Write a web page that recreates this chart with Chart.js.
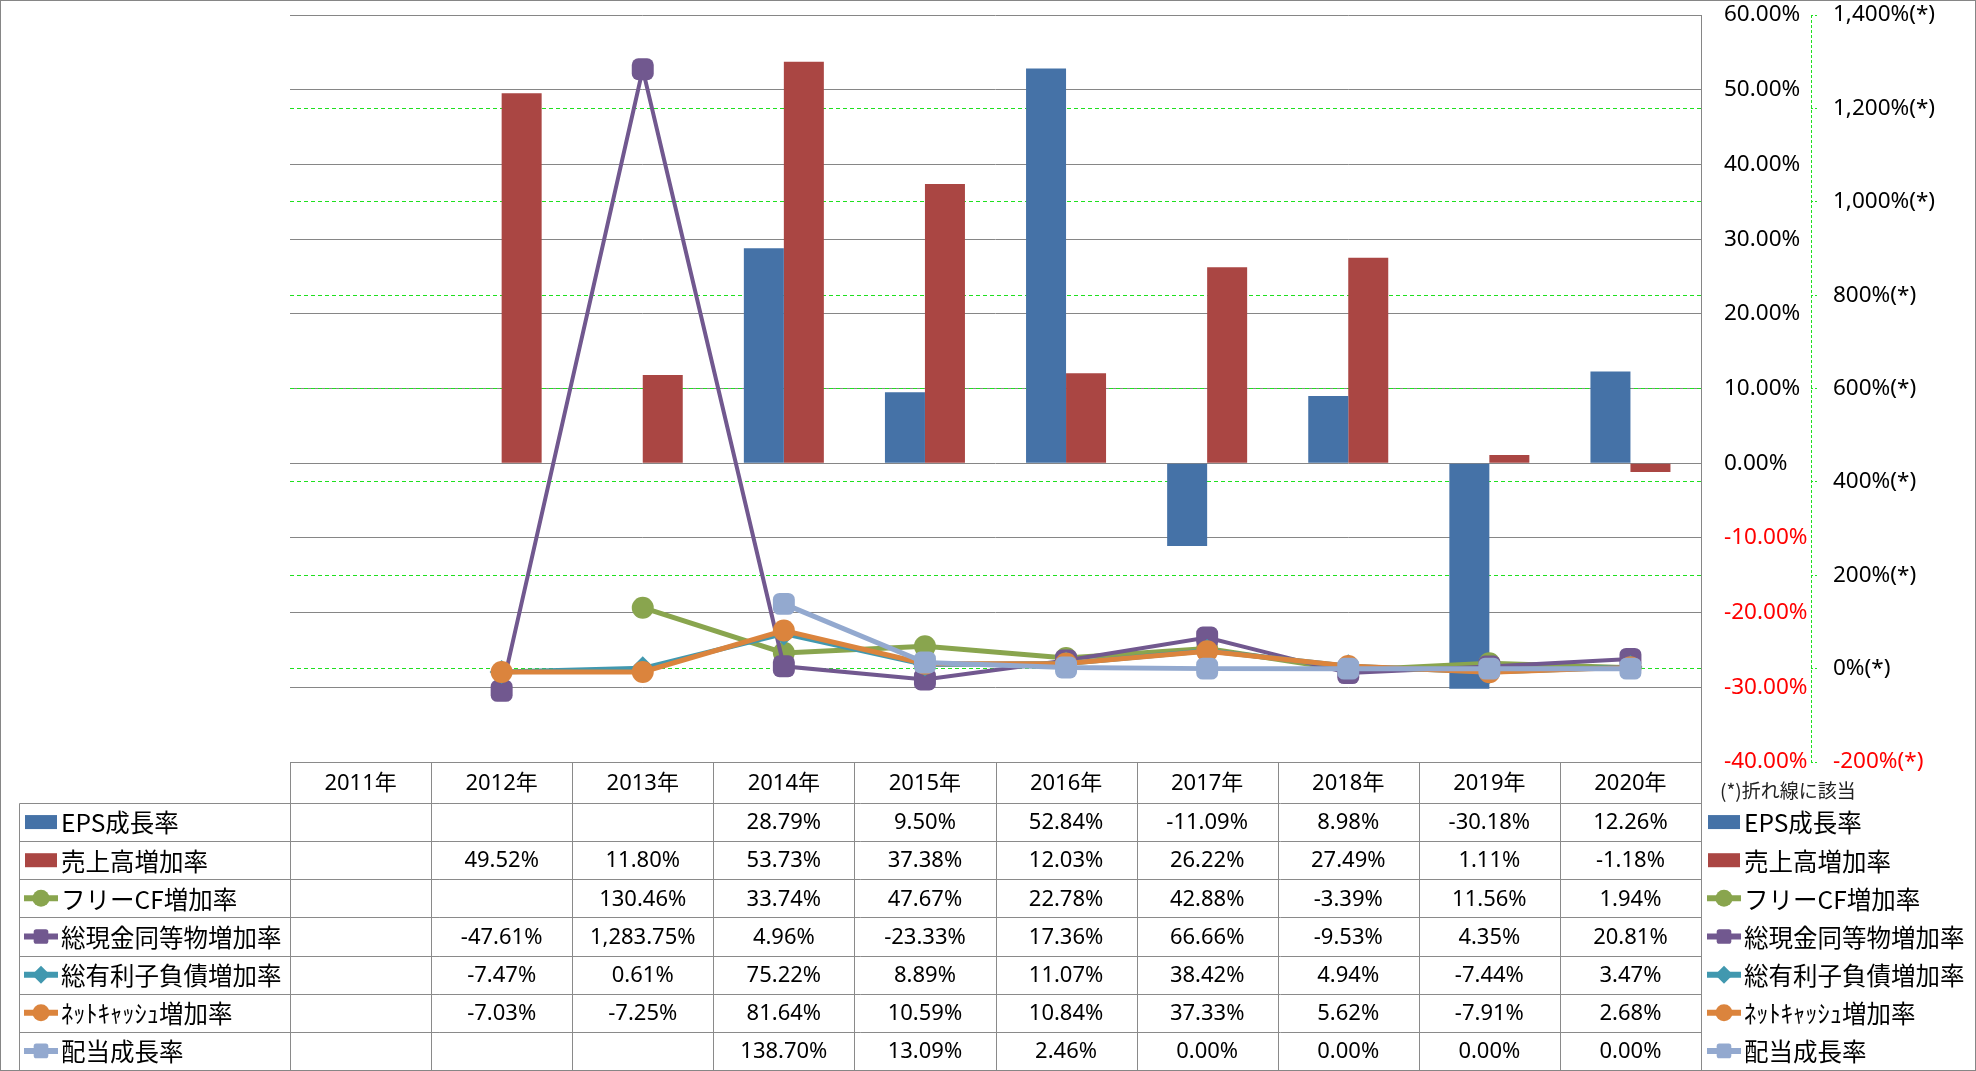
<!DOCTYPE html>
<html><head><meta charset="utf-8">
<script src="https://cdn.jsdelivr.net/npm/chart.js@4/dist/chart.umd.min.js"></script>
<style>html,body{margin:0;padding:0;background:#fff;}canvas{display:block;}</style>
</head><body>
<canvas id="c" width="1976" height="1071"></canvas>
<script>
// ---- data ----
const categories = ['2011年','2012年','2013年','2014年','2015年','2016年','2017年','2018年','2019年','2020年'];
const seriesLabels = ['EPS成長率','売上高増加率','フリーCF増加率','総現金同等物増加率','総有利子負債増加率','ﾈｯﾄｷｬｯｼｭ増加率','配当成長率'];
const epsGrowth      = [null, null, null, 28.79, 9.50, 52.84, -11.09, 8.98, -30.18, 12.26];
const salesGrowth    = [null, 49.52, 11.80, 53.73, 37.38, 12.03, 26.22, 27.49, 1.11, -1.18];
const fcfGrowth      = [null, null, 130.46, 33.74, 47.67, 22.78, 42.88, -3.39, 11.56, 1.94];
const cashGrowth     = [null, -47.61, 1283.75, 4.96, -23.33, 17.36, 66.66, -9.53, 4.35, 20.81];
const debtGrowth     = [null, -7.47, 0.61, 75.22, 8.89, 11.07, 38.42, 4.94, -7.44, 3.47];
const netCashGrowth  = [null, -7.03, -7.25, 81.64, 10.59, 10.84, 37.33, 5.62, -7.91, 2.68];
const dividendGrowth = [null, null, null, 138.70, 13.09, 2.46, 0.00, 0.00, 0.00, 0.00];
const primaryAxis   = {min: -40, max: 60, step: 10};
const secondaryAxis = {min: -200, max: 1400, step: 200};
const secondaryNote = '(*)折れ線に該当';

// ---- styles ----
const FONT_NUM = '"Noto Sans", "Noto Sans CJK JP", sans-serif';
const FONT_JP = '"Noto Sans CJK JP", "Noto Sans", sans-serif';
const GRID_GRAY = '#868686';
const GREEN = '#1fe01f';
const RED = '#ff0000';

const tableRows = [epsGrowth, salesGrowth, fcfGrowth, cashGrowth, debtGrowth, netCashGrowth, dividendGrowth];

function lineDs(i, data, color, style, r, w, order) {
  return {type:'line', label: seriesLabels[i], data, yAxisID:'y2', order,
    borderColor: color, backgroundColor: color, borderWidth: w,
    pointStyle: style, pointRadius: r, pointHoverRadius: r,
    pointBackgroundColor: color, pointBorderColor: color, pointBorderWidth: 0,
    tension: 0, spanGaps: false};
}

const datasets = [
  {type:'bar', label: seriesLabels[0], data: epsGrowth, yAxisID:'y', order:10,
   backgroundColor:'#4572A7', borderWidth:0, categoryPercentage:0.567, barPercentage:1},
  {type:'bar', label: seriesLabels[1], data: salesGrowth, yAxisID:'y', order:10,
   backgroundColor:'#AA4643', borderWidth:0, categoryPercentage:0.567, barPercentage:1},
  lineDs(2, fcfGrowth, '#89A54E', 'circle', 11, 5, 5),
  lineDs(3, cashGrowth, '#71588F', 'rectRounded', 12.8, 4, 4),
  lineDs(4, debtGrowth, '#4198AF', 'rectRot', 12, 5, 3),
  lineDs(5, netCashGrowth, '#DB843D', 'circle', 11, 5, 2),
  lineDs(6, dividendGrowth, '#93A9CF', 'rectRounded', 12.8, 5, 1)
];

function fmtPct(v) {
  if (v === null || v === undefined) return '';
  return v.toLocaleString('en-US', {minimumFractionDigits:2, maximumFractionDigits:2}) + '%';
}

function drawMarker(ctx, style, x, y, r, color) {
  ctx.save();
  ctx.fillStyle = color;
  ctx.beginPath();
  if (style === 'circle') {
    ctx.arc(x, y, r, 0, Math.PI*2);
  } else if (style === 'rectRot') {
    ctx.moveTo(x, y-r); ctx.lineTo(x+r, y); ctx.lineTo(x, y+r); ctx.lineTo(x-r, y); ctx.closePath();
  } else {
    const h = r*0.86, c = r*0.3;
    ctx.moveTo(x-h+c, y-h); ctx.lineTo(x+h-c, y-h); ctx.quadraticCurveTo(x+h, y-h, x+h, y-h+c);
    ctx.lineTo(x+h, y+h-c); ctx.quadraticCurveTo(x+h, y+h, x+h-c, y+h);
    ctx.lineTo(x-h+c, y+h); ctx.quadraticCurveTo(x-h, y+h, x-h, y+h-c);
    ctx.lineTo(x-h, y-h+c); ctx.quadraticCurveTo(x-h, y-h, x-h+c, y-h);
  }
  ctx.fill();
  ctx.restore();
}

function drawLegendEntry(ctx, ds, x0, cy) {
  if (ds.type === 'bar') {
    ctx.fillStyle = ds.backgroundColor;
    ctx.fillRect(x0, cy-7, 32, 14);
  } else {
    ctx.save();
    ctx.strokeStyle = ds.borderColor;
    ctx.lineWidth = 6;
    ctx.beginPath(); ctx.moveTo(x0-1, cy); ctx.lineTo(x0+33, cy); ctx.stroke();
    ctx.restore();
    drawMarker(ctx, ds.pointStyle, x0+16, cy, ds.pointStyle === 'rectRot' ? 9 : 8.5, ds.borderColor);
  }
}

const tablePlugin = {
  id: 'dataTable',
  afterDraw(chart) {
    const ctx = chart.ctx;
    const xs = chart.scales.x;
    const y2 = chart.scales.y2;
    const area = chart.chartArea;
    const n = categories.length;
    const colW = (xs.right - xs.left) / n;
    const top = area.bottom;
    const headerH = 41;
    const rowsTop = top + headerH;
    const bottom = chart.height - 1;
    const rowH = (bottom - rowsTop) / tableRows.length;
    const legendLeft = 19.5;

    ctx.save();
    ctx.strokeStyle = GREEN; ctx.lineWidth = 1; ctx.setLineDash([3,2]);
    ctx.beginPath(); ctx.moveTo(Math.round(y2.left)+0.5, y2.top); ctx.lineTo(Math.round(y2.left)+0.5, y2.bottom); ctx.stroke();
    ctx.setLineDash([]);

    ctx.strokeStyle = '#8a8a8a'; ctx.lineWidth = 1;
    ctx.beginPath();
    ctx.moveTo(xs.left, Math.round(top)+0.5); ctx.lineTo(xs.right, Math.round(top)+0.5);
    for (let r = 0; r <= tableRows.length; r++) {
      const yy = Math.round(rowsTop + r*rowH) + 0.5;
      ctx.moveTo(legendLeft, yy); ctx.lineTo(xs.right, yy);
    }
    ctx.moveTo(legendLeft, Math.round(rowsTop)+0.5); ctx.lineTo(legendLeft, bottom);
    for (let c = 0; c <= n; c++) {
      const xx = Math.round(xs.left + c*colW) + 0.5;
      ctx.moveTo(xx, Math.round(top)); ctx.lineTo(xx, bottom);
    }
    ctx.stroke();

    ctx.fillStyle = '#000';
    ctx.textBaseline = 'middle';
    ctx.textAlign = 'center';
    ctx.font = '22px ' + FONT_NUM;
    categories.forEach((c, i) => {
      ctx.fillText(c, xs.getPixelForValue(i), top + headerH/2 + 1);
    });
    tableRows.forEach((row, r) => {
      const cy = rowsTop + r*rowH + rowH/2 + 1;
      row.forEach((v, i) => {
        const t = fmtPct(v);
        if (t) ctx.fillText(t, xs.getPixelForValue(i), cy);
      });
    });

    ctx.textAlign = 'left';
    ctx.font = '24.5px ' + FONT_JP;
    chart.data.datasets.forEach((ds, r) => {
      const cy = rowsTop + r*rowH + rowH/2;
      drawLegendEntry(ctx, ds, 25, cy);
      ctx.fillStyle = '#000';
      ctx.fillText(ds.label, 61, cy + 1);
      drawLegendEntry(ctx, ds, 1708, cy);
      ctx.fillStyle = '#000';
      ctx.fillText(ds.label, 1744, cy + 1);
    });

    ctx.font = '19px ' + FONT_JP;
    ctx.fillStyle = '#222';
    ctx.fillText(secondaryNote, 1720, top + 29);

    ctx.strokeStyle = GRID_GRAY;
    ctx.strokeRect(0.5, 0.5, chart.width - 1, chart.height - 1);
    ctx.restore();
  }
};

new Chart(document.getElementById('c'), {
  data: {labels: categories, datasets},
  options: {
    responsive: false, animation: false, devicePixelRatio: 1,
    layout: {padding: {left: 290, top: 15, right: 0, bottom: 0}},
    plugins: {legend: {display: false}, tooltip: {enabled: false}},
    scales: {
      x: {type: 'category', offset: true, grid: {display: false}, border: {display: false},
          ticks: {display: false}, afterFit(s) { s.height = 309; s.paddingLeft = 0; s.paddingRight = 0; }},
      y: {position: 'right', weight: 0, min: primaryAxis.min, max: primaryAxis.max,
          ticks: {stepSize: primaryAxis.step, padding: 23, font: {family: FONT_NUM, size: 22.5},
                  color: c => c.tick.value < 0 ? RED : '#000',
                  callback: v => v.toFixed(2) + '%'},
          grid: {color: GRID_GRAY, lineWidth: 1, drawTicks: false},
          border: {display: true, color: GRID_GRAY, width: 1},
          afterFit(s) { s.width = 110; s.paddingTop = 0; s.paddingBottom = 0; }},
      y2: {position: 'right', weight: 1, min: secondaryAxis.min, max: secondaryAxis.max,
          ticks: {stepSize: secondaryAxis.step, padding: 14, font: {family: FONT_NUM, size: 22.5},
                  color: c => c.tick.value < 0 ? RED : '#000',
                  callback: v => v.toLocaleString('en-US') + '%(*)'},
          grid: {color: c => (c.tick && (c.tick.value === secondaryAxis.min || c.tick.value === secondaryAxis.max)) ? 'rgba(0,0,0,0)' : GREEN,
                 lineWidth: 1, drawTicks: true, tickLength: 8, tickColor: GREEN, tickWidth: 1,
                 tickBorderDash: [2,2]},
          border: {display: false, dash: [4,3]},
          afterFit(s) { s.width = 165; s.paddingTop = 0; s.paddingBottom = 0; }}
    }
  },
  plugins: [tablePlugin]
});
</script>
</body></html>
